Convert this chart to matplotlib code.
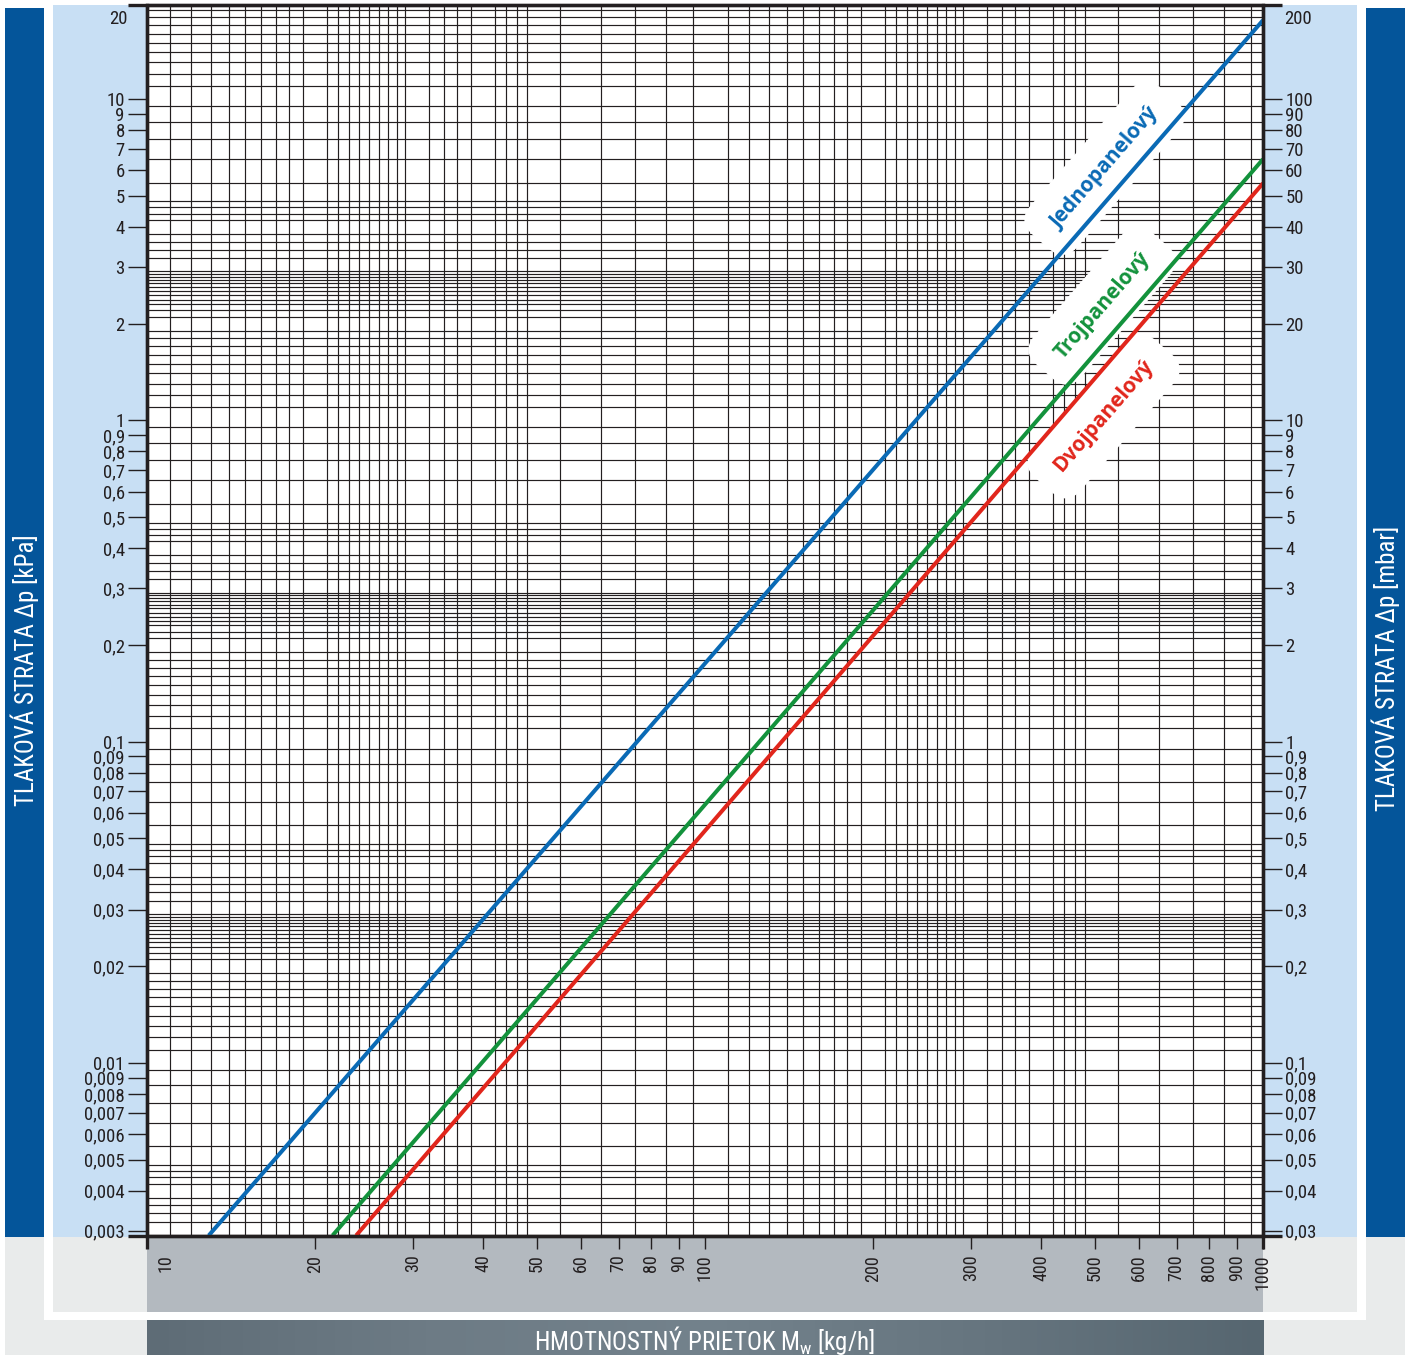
import numpy as np
import matplotlib
matplotlib.use('Agg')
import matplotlib.pyplot as plt
from matplotlib import font_manager
from matplotlib.lines import Line2D
from matplotlib.patches import Rectangle
import matplotlib.ticker as mticker
import matplotlib.transforms as mtrans
from matplotlib.colors import LinearSegmentedColormap

# ---------------- data ----------------
series_names = ['Jednopanelový', 'Trojpanelový', 'Dvojpanelový']
series_colors = ['#0a6ab5', '#13923c', '#e1261c']
flow_jedno = [12.9, 1000]
dp_jedno = [0.0029, 17.6]
flow_troj = [21.5, 1000]
dp_troj = [0.0029, 6.5]
flow_dvoj = [23.7, 1000]
dp_dvoj = [0.0029, 5.47]

x_ticks = [10, 20, 30, 40, 50, 60, 70, 80, 90, 100,
           200, 300, 400, 500, 600, 700, 800, 900, 1000]
x_labels = [str(v) for v in x_ticks]

y_ticks_kpa = [10, 9, 8, 7, 6, 5, 4, 3, 2,
               1, 0.9, 0.8, 0.7, 0.6, 0.5, 0.4, 0.3, 0.2,
               0.1, 0.09, 0.08, 0.07, 0.06, 0.05, 0.04, 0.03, 0.02,
               0.01, 0.009, 0.008, 0.007, 0.006, 0.005, 0.004, 0.003]
y_labels_kpa = ['10', '9', '8', '7', '6', '5', '4', '3', '2',
                '1', '0,9', '0,8', '0,7', '0,6', '0,5', '0,4', '0,3', '0,2',
                '0,1', '0,09', '0,08', '0,07', '0,06', '0,05', '0,04', '0,03', '0,02',
                '0,01', '0,009', '0,008', '0,007', '0,006', '0,005', '0,004', '0,003']
y_ticks_mbar = [100, 90, 80, 70, 60, 50, 40, 30, 20,
                10, 9, 8, 7, 6, 5, 4, 3, 2,
                1, 0.9, 0.8, 0.7, 0.6, 0.5, 0.4, 0.3, 0.2,
                0.1, 0.09, 0.08, 0.07, 0.06, 0.05, 0.04, 0.03]
y_labels_mbar = ['100', '90', '80', '70', '60', '50', '40', '30', '20',
                 '10', '9', '8', '7', '6', '5', '4', '3', '2',
                 '1', '0,9', '0,8', '0,7', '0,6', '0,5', '0,4', '0,3', '0,2',
                 '0,1', '0,09', '0,08', '0,07', '0,06', '0,05', '0,04', '0,03']

# graph-paper mantissas per decade
x_grid_mant = [1.0, 1.1, 1.2, 1.3, 1.4, 1.5, 1.6, 1.7, 1.8, 1.9,
               2.0, 2.1, 2.2, 2.3, 2.4, 2.5, 2.6, 2.7, 2.8, 2.9,
               3.0, 3.2, 3.4, 3.6, 3.8, 4.0, 4.2, 4.4, 4.6, 4.8,
               5.0, 5.5, 6.0, 6.5, 7.0, 7.5, 8.0, 8.5, 9.0, 9.5]
y_grid_mant = [1.0, 1.1, 1.2, 1.3, 1.4, 1.5, 1.6, 1.7, 1.8, 1.9,
               2.0, 2.1, 2.2, 2.3, 2.37, 2.45, 2.52, 2.6, 2.67, 2.73, 2.79, 2.85, 2.91,
               3.0, 3.2, 3.4, 3.6, 3.8, 4.0, 4.2, 4.4, 4.6, 4.8,
               5.0, 5.5, 6.0, 6.5, 7.0, 7.5, 8.0, 8.5, 9.0, 9.5]
x_decades = [10, 100, 1000]
y_decades = [0.001, 0.01, 0.1, 1, 10]

# ---------------- fonts ----------------
def pick(names):
    for n in names:
        try:
            font_manager.findfont(n, fallback_to_default=False)
            return n
        except Exception:
            pass
    return 'DejaVu Sans'

narrow = pick(['Liberation Sans Narrow', 'Roboto Condensed', 'Liberation Sans', 'Arial'])
boldfont = pick(['Open Sans', 'Lato', 'Roboto'])
plt.rcParams['font.family'] = [narrow, 'DejaVu Sans']
plt.rcParams['mathtext.fontset'] = 'custom'
plt.rcParams['mathtext.rm'] = narrow

DARK = '#231f20'
W, H = 1409, 1355
fig = plt.figure(figsize=(W / 100, H / 100), dpi=100)
fig.patch.set_facecolor('white')


def rect(x0, y0, x1, y1, color, z):
    fig.add_artist(Rectangle((x0 / W, 1 - y1 / H), (x1 - x0) / W, (y1 - y0) / H,
                             transform=fig.transFigure, facecolor=color,
                             edgecolor='none', zorder=z))

# background decorations
rect(5, 1237, 1405, 1355, '#e9ebeb', -20)
rect(44, 0, 1366, 1320, 'white', -19)
rect(53, 1237, 1357, 1312, '#e9ebeb', -18)
rect(53, 5, 147, 1237, '#c8dff4', -17)
rect(1263, 5, 1357, 1237, '#c8dff4', -17)
rect(5, 8, 44, 1237, '#04559a', -17)
rect(1366, 8, 1405, 1237, '#04559a', -17)
rect(147, 1237, 1263, 1312, '#b3b9bf', -16)

# ---------------- main axes ----------------
ax_top, ax_bot = 4.5, 1236.0
ax = fig.add_axes([147 / W, 1 - ax_bot / H, (1263 - 147) / W, (ax_bot - ax_top) / H])
ax.set_facecolor('white')
ax.set_xscale('log')
ax.set_yscale('log')
ax.set_xlim(10, 1000)
ax.set_ylim(0.00289, 19.7)

xgrid = [d * m for d in x_decades[:-1] for m in x_grid_mant] + [1000]
ygrid = [d * m for d in y_decades for m in y_grid_mant]
ygrid = [v for v in ygrid if 0.00289 < v < 19.7]

ax.xaxis.set_minor_locator(mticker.FixedLocator(xgrid))
ax.yaxis.set_minor_locator(mticker.FixedLocator(ygrid))
ax.xaxis.set_minor_formatter(mticker.NullFormatter())
ax.yaxis.set_minor_formatter(mticker.NullFormatter())
ax.set_axisbelow(True)
ax.grid(which='minor', color=DARK, linewidth=0.85)
ax.grid(which='major', visible=False)
ax.tick_params(which='minor', length=0)

ax.xaxis.set_major_locator(mticker.FixedLocator(x_ticks))
ax.xaxis.set_major_formatter(mticker.FixedFormatter(x_labels))
ax.yaxis.set_major_locator(mticker.FixedLocator(y_ticks_kpa))
ax.yaxis.set_major_formatter(mticker.FixedFormatter(y_labels_kpa))
ax.tick_params(axis='y', which='major', length=13.5, width=1.0, color=DARK,
               direction='out', pad=2.5, labelsize=13.5, labelcolor=DARK)
ax.tick_params(axis='x', which='major', length=9.5, width=1.0, color=DARK,
               direction='out', pad=4, labelsize=13, labelcolor=DARK,
               labelrotation=90)

for s in ax.spines.values():
    s.set_linewidth(2.4)
    s.set_color(DARK)

# shift the "10" label right as in the reference
fig.canvas.draw()
first = ax.xaxis.get_major_ticks()[0]
first.label1.set_transform(first.label1.get_transform() +
                           mtrans.ScaledTranslation(19 / 100, 0, fig.dpi_scale_trans))
first.tick1line.set_visible(False)

# top-left "20" label
down = mtrans.ScaledTranslation(0, -6 / 100, fig.dpi_scale_trans)
ax.text(-19.5 / 1116, 19.7, '20',
        transform=mtrans.blended_transform_factory(ax.transAxes, ax.transData) + down,
        ha='right', va='top', fontsize=13.5, color=DARK)

# spine extensions
ext_x = 19 / 1116
ext_y = 13 / (ax_bot - ax_top)
for (xs, ys) in [((-ext_x, 1 + ext_x), (0, 0)), ((-ext_x, 1 + ext_x), (1, 1)),
                 ((0, 0), (-ext_y, 1)), ((1, 1), (-ext_y, 1))]:
    ax.add_line(Line2D(xs, ys, transform=ax.transAxes, clip_on=False,
                       color=DARK, linewidth=2.4, solid_capstyle='butt', zorder=6))

# curves
flows = [flow_jedno, flow_troj, flow_dvoj]
dps = [dp_jedno, dp_troj, dp_dvoj]
for f, d, c in zip(flows, dps, series_colors):
    ax.plot(f, d, color=c, linewidth=2.9, solid_capstyle='butt', zorder=4)

# labels along lines
p0 = ax.transData.transform((flow_jedno[0], dp_jedno[0]))
p1 = ax.transData.transform((flow_jedno[1], dp_jedno[1]))
ang = np.degrees(np.arctan2(p1[1] - p0[1], p1[0] - p0[0]))
label_pos = [(520, 6.1), (515, 2.28), (518, 1.03)]
for name, c, (lx, ly) in zip(series_names, series_colors, label_pos):
    ax.text(lx, ly, name, rotation=ang, rotation_mode='anchor', ha='center', va='center',
            color=c, fontsize=15, fontweight='bold', family=boldfont,
            bbox=dict(boxstyle='round,pad=1.0', fc='white', ec='none'), zorder=3)

# ---------------- right axis (mbar) ----------------
ax2 = ax.twinx()
ax2.set_yscale('log')
ax2.set_ylim(0.0289, 197)
ax2.yaxis.set_major_locator(mticker.FixedLocator(y_ticks_mbar))
ax2.yaxis.set_major_formatter(mticker.FixedFormatter(y_labels_mbar))
ax2.yaxis.set_minor_locator(mticker.NullLocator())
ax2.tick_params(axis='y', which='major', length=13.5, width=1.0, color=DARK,
                direction='out', pad=2.5, labelsize=13.5, labelcolor=DARK)
for s in ax2.spines.values():
    s.set_visible(False)
ax2.text(1 + 21 / 1116, 197, '200',
         transform=mtrans.blended_transform_factory(ax2.transAxes, ax2.transData) + down,
         ha='left', va='top', fontsize=13.5, color=DARK)

# ---------------- axis titles ----------------
fig.text(25 / W, 1 - 670 / H, 'TLAKOVÁ STRATA Δp [kPa]', rotation=90, color='white',
         ha='center', va='center', fontsize=18)
fig.text(1386 / W, 1 - 668 / H, 'TLAKOVÁ STRATA Δp [mbar]', rotation=90, color='white',
         ha='center', va='center', fontsize=18)

bax = fig.add_axes([147 / W, 0, 1116 / W, 35 / H])
cmap = LinearSegmentedColormap.from_list('slate', ['#5e6c76', '#6d7b85', '#73828c', '#66757f', '#566670'])
bax.imshow(np.linspace(0, 1, 256)[None, :], aspect='auto', cmap=cmap, extent=(0, 1, 0, 1))
bax.set_axis_off()
bax.text(0.5, 0.42, 'HMOTNOSTNÝ PRIETOK M$_\\mathregular{w}$ [kg/h]', color='white',
         ha='center', va='center', fontsize=18, transform=bax.transAxes)

fig.savefig('out.png', dpi=100)
